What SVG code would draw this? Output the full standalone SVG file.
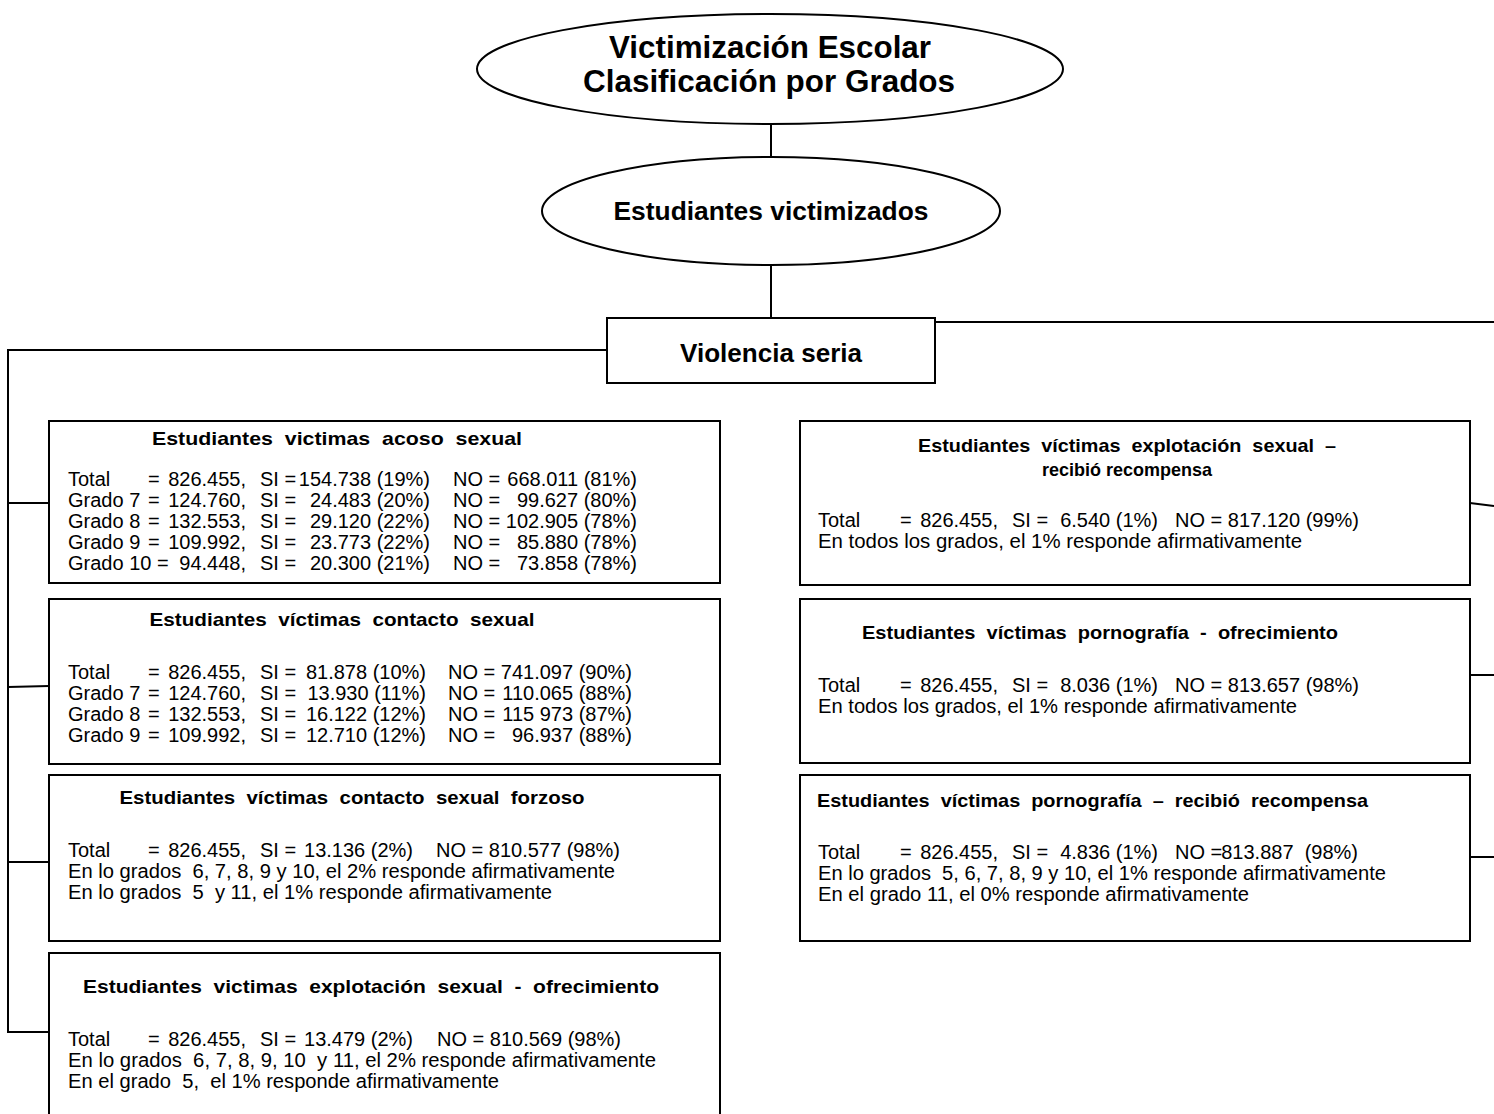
<svg xmlns="http://www.w3.org/2000/svg" width="1494" height="1114" viewBox="0 0 1494 1114">
  <style>
    .shape { fill: #fff; stroke: #000; stroke-width: 2; }
    .conn { fill: none; stroke: #000; stroke-width: 2; }
    .t { font-family: "Liberation Sans", Arial, sans-serif; font-size: 20px; fill: #000; white-space: pre; }
    .h { font-weight: bold; font-size: 19px; }
    .big { font-weight: bold; font-size: 32px; }
    .mid { font-weight: bold; font-size: 26px; }
    .c { text-anchor: middle; }
    .e { text-anchor: end; }
  </style>

  <!-- connectors -->
  <g id="connectors">
    <path class="conn" d="M771 124 V157"/>
    <path class="conn" d="M771 266 V318"/>
    <path class="conn" d="M607 350 H8 V1032 H49"/>
    <path class="conn" d="M8 503 H49"/>
    <path class="conn" d="M8 687 L49 686"/>
    <path class="conn" d="M8 862 H49"/>
    <path class="conn" d="M935 322 H1494"/>
    <path class="conn" d="M1470 503 L1494 506"/>
    <path class="conn" d="M1470 675 H1494"/>
    <path class="conn" d="M1470 857 H1494"/>
  </g>

  <!-- root -->
  <g id="n-root">
    <ellipse class="shape" cx="770" cy="69" rx="293" ry="55"/>
    <text class="t big c" x="770" y="58" textLength="322" lengthAdjust="spacingAndGlyphs">Victimización Escolar</text>
    <text class="t big c" x="769" y="92" textLength="372" lengthAdjust="spacingAndGlyphs">Clasificación por Grados</text>
  </g>

  <g id="n-victimizados">
    <ellipse class="shape" cx="771" cy="211" rx="229" ry="54"/>
    <text class="t mid c" x="771" y="220" textLength="315" lengthAdjust="spacingAndGlyphs">Estudiantes victimizados</text>
  </g>

  <g id="n-violencia">
    <rect class="shape" x="607" y="318" width="328" height="65"/>
    <text class="t mid c" x="771" y="362" textLength="182" lengthAdjust="spacingAndGlyphs">Violencia seria</text>
  </g>

  <!-- left column -->
  <g id="n-acoso">
    <rect class="shape" x="49" y="421" width="671" height="162"/>
    <text class="t h c" x="337" y="445" textLength="370" lengthAdjust="spacingAndGlyphs">Estudiantes  victimas  acoso  sexual</text>
    <text class="t" x="68" y="486">Total</text><text class="t" x="148" y="486">=</text><text class="t e" x="246" y="486">826.455,</text><text class="t" x="260" y="486">SI =</text><text class="t e" x="430" y="486">154.738 (19%)</text><text class="t" x="453" y="486">NO =</text><text class="t e" x="637" y="486">668.011 (81%)</text>
    <text class="t" x="68" y="507">Grado 7</text><text class="t" x="148" y="507">=</text><text class="t e" x="246" y="507">124.760,</text><text class="t" x="260" y="507">SI =</text><text class="t e" x="430" y="507">24.483 (20%)</text><text class="t" x="453" y="507">NO =</text><text class="t e" x="637" y="507">99.627 (80%)</text>
    <text class="t" x="68" y="528">Grado 8</text><text class="t" x="148" y="528">=</text><text class="t e" x="246" y="528">132.553,</text><text class="t" x="260" y="528">SI =</text><text class="t e" x="430" y="528">29.120 (22%)</text><text class="t" x="453" y="528">NO =</text><text class="t e" x="637" y="528">102.905 (78%)</text>
    <text class="t" x="68" y="549">Grado 9</text><text class="t" x="148" y="549">=</text><text class="t e" x="246" y="549">109.992,</text><text class="t" x="260" y="549">SI =</text><text class="t e" x="430" y="549">23.773 (22%)</text><text class="t" x="453" y="549">NO =</text><text class="t e" x="637" y="549">85.880 (78%)</text>
    <text class="t" x="68" y="570">Grado 10 =</text><text class="t e" x="246" y="570">94.448,</text><text class="t" x="260" y="570">SI =</text><text class="t e" x="430" y="570">20.300 (21%)</text><text class="t" x="453" y="570">NO =</text><text class="t e" x="637" y="570">73.858 (78%)</text>
  </g>

  <g id="n-contacto">
    <rect class="shape" x="49" y="599" width="671" height="165"/>
    <text class="t h c" x="342" y="626" textLength="385" lengthAdjust="spacingAndGlyphs">Estudiantes  víctimas  contacto  sexual</text>
    <text class="t" x="68" y="679">Total</text><text class="t" x="148" y="679">=</text><text class="t e" x="246" y="679">826.455,</text><text class="t" x="260" y="679">SI =</text><text class="t e" x="426" y="679">81.878 (10%)</text><text class="t" x="448" y="679">NO =</text><text class="t e" x="632" y="679">741.097 (90%)</text>
    <text class="t" x="68" y="700">Grado 7</text><text class="t" x="148" y="700">=</text><text class="t e" x="246" y="700">124.760,</text><text class="t" x="260" y="700">SI =</text><text class="t e" x="426" y="700">13.930 (11%)</text><text class="t" x="448" y="700">NO =</text><text class="t e" x="632" y="700">110.065 (88%)</text>
    <text class="t" x="68" y="721">Grado 8</text><text class="t" x="148" y="721">=</text><text class="t e" x="246" y="721">132.553,</text><text class="t" x="260" y="721">SI =</text><text class="t e" x="426" y="721">16.122 (12%)</text><text class="t" x="448" y="721">NO =</text><text class="t e" x="632" y="721">115 973 (87%)</text>
    <text class="t" x="68" y="742">Grado 9</text><text class="t" x="148" y="742">=</text><text class="t e" x="246" y="742">109.992,</text><text class="t" x="260" y="742">SI =</text><text class="t e" x="426" y="742">12.710 (12%)</text><text class="t" x="448" y="742">NO =</text><text class="t e" x="632" y="742">96.937 (88%)</text>
  </g>

  <g id="n-forzoso">
    <rect class="shape" x="49" y="775" width="671" height="166"/>
    <text class="t h c" x="352" y="804" textLength="465" lengthAdjust="spacingAndGlyphs">Estudiantes  víctimas  contacto  sexual  forzoso</text>
    <text class="t" x="68" y="857">Total</text><text class="t" x="148" y="857">=</text><text class="t e" x="246" y="857">826.455,</text><text class="t" x="260" y="857">SI =</text><text class="t e" x="413" y="857">13.136 (2%)</text><text class="t" x="436" y="857">NO =</text><text class="t e" x="620" y="857">810.577 (98%)</text>
    <text class="t" x="68" y="878" textLength="547" lengthAdjust="spacingAndGlyphs">En lo grados  6, 7, 8, 9 y 10, el 2% responde afirmativamente</text>
    <text class="t" x="68" y="899" textLength="484" lengthAdjust="spacingAndGlyphs">En lo grados  5  y 11, el 1% responde afirmativamente</text>
  </g>

  <g id="n-explotacion-ofrecimiento">
    <rect class="shape" x="49" y="953" width="671" height="175"/>
    <text class="t h c" x="371" y="993" textLength="576" lengthAdjust="spacingAndGlyphs">Estudiantes  victimas  explotación  sexual  -  ofrecimiento</text>
    <text class="t" x="68" y="1046">Total</text><text class="t" x="148" y="1046">=</text><text class="t e" x="246" y="1046">826.455,</text><text class="t" x="260" y="1046">SI =</text><text class="t e" x="413" y="1046">13.479 (2%)</text><text class="t" x="437" y="1046">NO =</text><text class="t e" x="621" y="1046">810.569 (98%)</text>
    <text class="t" x="68" y="1067" textLength="588" lengthAdjust="spacingAndGlyphs">En lo grados  6, 7, 8, 9, 10  y 11, el 2% responde afirmativamente</text>
    <text class="t" x="68" y="1088" textLength="431" lengthAdjust="spacingAndGlyphs">En el grado  5,  el 1% responde afirmativamente</text>
  </g>

  <!-- right column -->
  <g id="n-explotacion-recompensa">
    <rect class="shape" x="800" y="421" width="670" height="164"/>
    <text class="t h c" x="1127" y="452" textLength="418" lengthAdjust="spacingAndGlyphs">Estudiantes  víctimas  explotación  sexual  –</text>
    <text class="t h c" x="1127" y="476" textLength="170" lengthAdjust="spacingAndGlyphs">recibió recompensa</text>
    <text class="t" x="818" y="527">Total</text><text class="t" x="900" y="527">=</text><text class="t e" x="998" y="527">826.455,</text><text class="t" x="1012" y="527">SI =</text><text class="t e" x="1158" y="527">6.540 (1%)</text><text class="t" x="1175" y="527">NO =</text><text class="t e" x="1359" y="527">817.120 (99%)</text>
    <text class="t" x="818" y="548" textLength="484" lengthAdjust="spacingAndGlyphs">En todos los grados, el 1% responde afirmativamente</text>
  </g>

  <g id="n-pornografia-ofrecimiento">
    <rect class="shape" x="800" y="599" width="670" height="164"/>
    <text class="t h c" x="1100" y="639" textLength="476" lengthAdjust="spacingAndGlyphs">Estudiantes  víctimas  pornografía  -  ofrecimiento</text>
    <text class="t" x="818" y="692">Total</text><text class="t" x="900" y="692">=</text><text class="t e" x="998" y="692">826.455,</text><text class="t" x="1012" y="692">SI =</text><text class="t e" x="1158" y="692">8.036 (1%)</text><text class="t" x="1175" y="692">NO =</text><text class="t e" x="1359" y="692">813.657 (98%)</text>
    <text class="t" x="818" y="713" textLength="479" lengthAdjust="spacingAndGlyphs">En todos los grados, el 1% responde afirmativamente</text>
  </g>

  <g id="n-pornografia-recompensa">
    <rect class="shape" x="800" y="775" width="670" height="166"/>
    <text class="t h" x="817" y="807" textLength="551" lengthAdjust="spacingAndGlyphs">Estudiantes  víctimas  pornografía  –  recibió  recompensa</text>
    <text class="t" x="818" y="859">Total</text><text class="t" x="900" y="859">=</text><text class="t e" x="998" y="859">826.455,</text><text class="t" x="1012" y="859">SI =</text><text class="t e" x="1158" y="859">4.836 (1%)</text><text class="t" x="1175" y="859">NO =</text><text class="t e" x="1358" y="859">813.887  (98%)</text>
    <text class="t" x="818" y="880" textLength="568" lengthAdjust="spacingAndGlyphs">En lo grados  5, 6, 7, 8, 9 y 10, el 1% responde afirmativamente</text>
    <text class="t" x="818" y="901" textLength="431" lengthAdjust="spacingAndGlyphs">En el grado 11, el 0% responde afirmativamente</text>
  </g>
</svg>
